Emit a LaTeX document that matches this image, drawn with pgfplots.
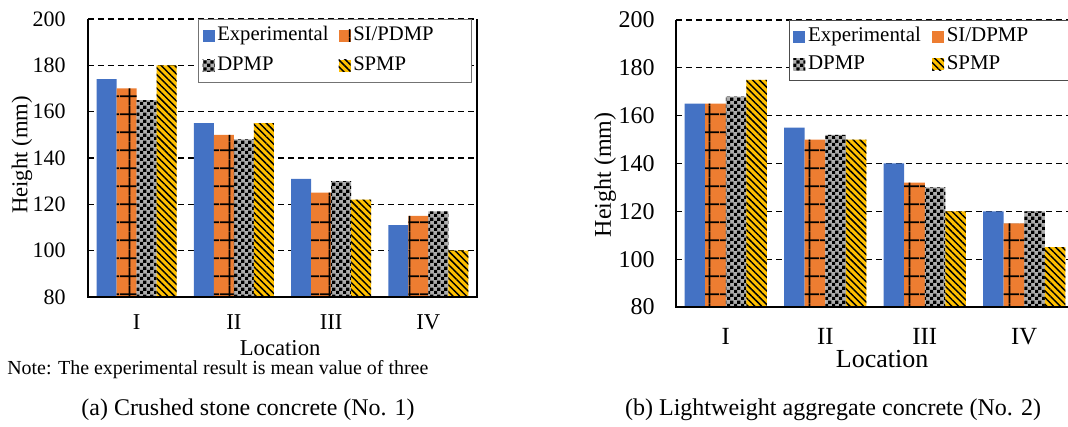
\documentclass[border=0pt]{standalone}
\usepackage{pgfplots}
\pgfplotsset{compat=1.18}
\usepackage{pgfplotstable}
\usepackage{graphicx}
\usepackage{fontspec}
\setmainfont{Liberation Serif}
\usetikzlibrary{patterns,patterns.meta}

\definecolor{cblue}{HTML}{4472C4}
\definecolor{corange}{HTML}{ED7D31}
\definecolor{cgray}{HTML}{ADADAD}
\definecolor{cyellow}{HTML}{FFC000}

\tikzdeclarepattern{
  name=orangegrid, type=uncolored,
  bounding box={(0,0) and (15pt,13.3pt)},
  tile size={(15pt,13.3pt)},
  code={
    \draw[line width=1.3pt] (0,6.65pt) -- (15pt,6.65pt);
    \draw[line width=1.3pt] (7.5pt,0) -- (7.5pt,13.3pt);
  }
}
\tikzdeclarepattern{
  name=checker, type=uncolored,
  bounding box={(0,0) and (5pt,5pt)},
  tile size={(5pt,5pt)},
  code={
    \fill (0,0) rectangle (2.5pt,2.5pt);
    \fill (2.5pt,2.5pt) rectangle (5pt,5pt);
  }
}

\pgfplotstableread{
x exp si dp sp
0 174 170 165 180
1 155 150 148 155
2 131 125 130 122
3 111 115 117 100
}\dataA
\pgfplotstableread{
x exp si dp sp
0 165 165 168 175
1 155 150 152 150
2 140 132 130 120
3 120 115 120 105
}\dataB

\pgfplotsset{
  mybars/.style={
    scale only axis,
    ybar=0pt,
    ymin=80, ymax=200, ytick={80,100,...,200},
    xmin=-0.5, xmax=3.5, xtick={0,1,2,3}, xticklabels={I,II,III,IV},
    ymajorgrids,
    grid style={black, line width=0.8pt, dash pattern=on 4.5pt off 3pt},
    major tick length=0pt,
    axis line style={draw=none},
    /pgf/number format/assume math mode=true,
    extra description/.code={
      \draw[line width=1.1pt] (rel axis cs:0,1) -- (rel axis cs:0,0) -- (rel axis cs:1,0) -- (rel axis cs:1,1);
    },
    legend columns=2,
    legend cell align=left,
    legend image code/.code={\path[##1] (0pt,-4.5pt) rectangle (9pt,4.5pt);},
    sExp/.style={fill=cblue, draw=none},
    sSI/.style={fill=corange, draw=none, postaction={pattern=orangegrid, pattern color=black}},
    sDP/.style={fill=cgray, draw=none, postaction={pattern=checker, pattern color=black}},
    sSP/.style={fill=cyellow, draw=none, postaction={pattern={Lines[angle=-45,distance=3.6pt,line width=1.1pt]}, pattern color=black}},
  }
}

\begin{document}
\begin{tikzpicture}
\path[use as bounding box] (0,0) rectangle (801pt,320.25pt);
\clip (0,0) rectangle (801pt,320.25pt);

% ---- left chart ----
\begin{axis}[mybars,
  at={(66pt,97.5pt)}, anchor=south west,
  width=291.75pt, height=208.5pt,
  bar width=15pt,
  yticklabel style={font=\fontsize{16.5pt}{18pt}\selectfont, anchor=east, inner sep=0pt, xshift=-16.5pt},
  xticklabel style={font=\fontsize{17pt}{19pt}\selectfont, anchor=center, inner sep=0pt, yshift=-18.75pt},
  ylabel={Height (mm)},
  ylabel style={at={(axis description cs:-0.1697,0.511)}, anchor=center, font=\fontsize{17pt}{19pt}\selectfont},
  xlabel={Location},
  xlabel style={at={(axis description cs:0.494,-0.183)}, anchor=center, font=\fontsize{17pt}{19pt}\selectfont},
  legend style={at={(axis description cs:0.283,1.0)}, anchor=north west,
    draw=black!55, line width=0.75pt, fill=white,
    font=\fontsize{15.5pt}{17pt}\selectfont, inner sep=3pt, row sep=4pt,
    /tikz/every even column/.append style={column sep=5pt},
    nodes={inner sep=2pt, text height=11pt, text depth=3.5pt}},
]
\addplot[sExp] table[x=x,y=exp] {\dataA};
\addlegendentry{\makebox[84pt][l]{Experimental}}
\addplot[sSI] table[x=x,y=si] {\dataA};
\addlegendentry{\makebox[84pt][l]{SI/PDMP}}
\addplot[sDP] table[x=x,y=dp] {\dataA};
\addlegendentry{\makebox[84pt][l]{DPMP}}
\addplot[sSP] table[x=x,y=sp] {\dataA};
\addlegendentry{\makebox[84pt][l]{SPMP}}
\end{axis}

% ---- right chart ----
\begin{axis}[mybars,
  at={(507pt,90pt)}, anchor=south west,
  width=298.5pt, height=215.25pt,
  bar width=15.4pt,
  yticklabel style={font=\fontsize{18pt}{20pt}\selectfont, anchor=east, inner sep=0pt, xshift=-15.75pt},
  xticklabel style={font=\fontsize{18.5pt}{20pt}\selectfont, anchor=center, inner sep=0pt, yshift=-22pt},
  ylabel={Height (mm)},
  ylabel style={at={(axis description cs:-0.178,0.46)}, anchor=center, font=\fontsize{18pt}{20pt}\selectfont},
  xlabel={Location},
  xlabel style={at={(axis description cs:0.518,-0.183)}, anchor=center, font=\fontsize{19.5pt}{21pt}\selectfont},
  legend style={at={(axis description cs:0.2838,1.0)}, anchor=north west,
    draw=black!70, line width=0.75pt, fill=white,
    font=\fontsize{15.7pt}{17pt}\selectfont, inner sep=3pt, row sep=2pt,
    /tikz/every even column/.append style={column sep=5pt},
    nodes={inner sep=2pt, text height=11pt, text depth=3.5pt}},
]
\addplot[sExp] table[x=x,y=exp] {\dataB};
\addlegendentry{\makebox[86pt][l]{Experimental}}
\addplot[sSI] table[x=x,y=si] {\dataB};
\addlegendentry{\makebox[86pt][l]{SI/DPMP}}
\addplot[sDP] table[x=x,y=dp] {\dataB};
\addlegendentry{\makebox[86pt][l]{DPMP}}
\addplot[sSP] table[x=x,y=sp] {\dataB};
\addlegendentry{\makebox[86pt][l]{SPMP}}
\end{axis}

% ---- note and captions ----
\node[anchor=west, inner sep=0pt] at (5.25pt,42.75pt)
  {\resizebox{315.75pt}{!}{\fontsize{15pt}{17pt}\selectfont Note: The experimental result is mean value of three}};
\node[anchor=center, inner sep=0pt] at (186pt,12.75pt)
  {\resizebox{249.75pt}{!}{\fontsize{17pt}{19pt}\selectfont (a) Crushed stone concrete (No. 1)}};
\node[anchor=center, inner sep=0pt] at (624.75pt,12.75pt)
  {\resizebox{312pt}{!}{\fontsize{17pt}{19pt}\selectfont (b) Lightweight aggregate concrete (No. 2)}};
\end{tikzpicture}
\end{document}
